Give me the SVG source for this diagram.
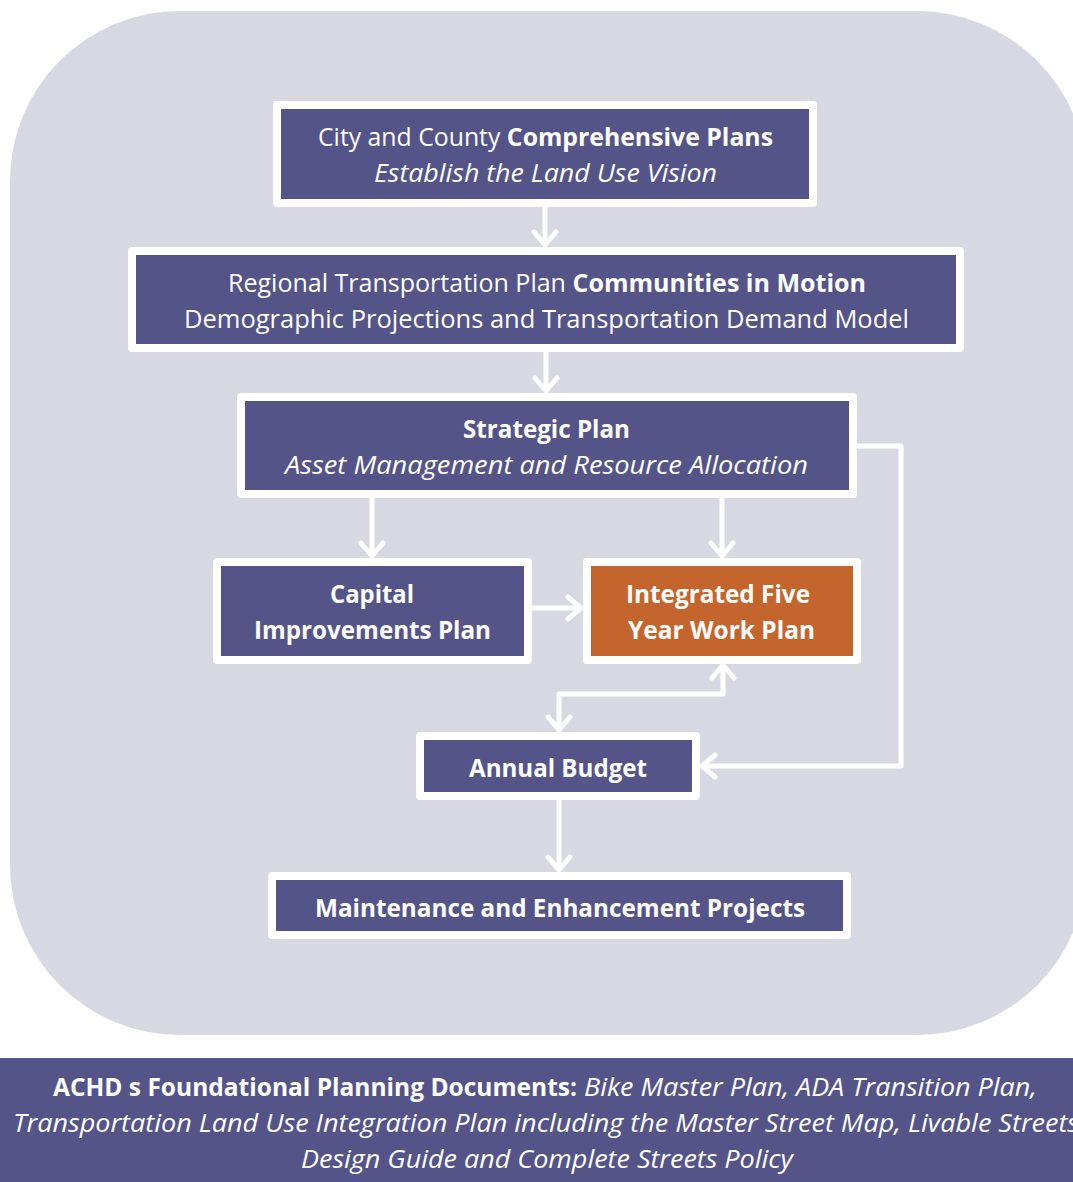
<svg xmlns="http://www.w3.org/2000/svg" width="1073" height="1182" viewBox="0 0 1073 1182">
<defs>
<style>
.bg{fill:#D8D8E2}
.box{fill:#545489;stroke:#fff;stroke-width:8;stroke-linejoin:round}
.org{fill:#C4652D;stroke:#fff;stroke-width:8;stroke-linejoin:round}
.t{font-family:"Open Sans","Noto Sans","DejaVu Sans",sans-serif;font-size:25px;fill:#fff;text-anchor:middle}
.s{text-anchor:start}
.b{font-weight:bold}
.i{font-style:italic}
.c{fill:none;stroke:#fff;stroke-width:5;stroke-linejoin:round}
</style>
<marker id="ah" markerUnits="userSpaceOnUse" markerWidth="30" markerHeight="30" refX="0" refY="0" orient="auto" overflow="visible">
<path d="M-13,-11 L0,0 L-13,11" fill="none" stroke="#fff" stroke-width="5" stroke-linecap="round" stroke-linejoin="round"/>
</marker>
</defs>
<rect class="bg" x="10" y="11" width="1077" height="1024" rx="170" ry="170"/>
<g id="connectors">
<line class="c" x1="545" y1="207" x2="545" y2="245" marker-end="url(#ah)"/>
<line class="c" x1="546" y1="352" x2="546" y2="391" marker-end="url(#ah)"/>
<line class="c" x1="372" y1="497" x2="372" y2="556" marker-end="url(#ah)"/>
<line class="c" x1="722" y1="497" x2="722" y2="556" marker-end="url(#ah)"/>
<line class="c" x1="531" y1="608" x2="581" y2="608" marker-end="url(#ah)"/>
<polyline class="c" points="857,446 901,446 901,766 702,766" marker-end="url(#ah)"/>
<line class="c" x1="723" y1="694" x2="723" y2="665" marker-end="url(#ah)"/>
<polyline class="c" points="723,690 723,694 559,694 559,730" marker-end="url(#ah)"/>
<line class="c" x1="559" y1="799" x2="559" y2="870" marker-end="url(#ah)"/>
</g>
<g id="comprehensive">
<rect class="box" x="277" y="105" width="536" height="98"/>
<text class="t" x="545.5" y="146" textLength="455" lengthAdjust="spacingAndGlyphs">City and County <tspan class="b">Comprehensive Plans</tspan></text>
<text class="t i" x="545.5" y="182" textLength="343" lengthAdjust="spacingAndGlyphs">Establish the Land Use Vision</text>
</g>
<g id="regional">
<rect class="box" x="132" y="251" width="828" height="97"/>
<text class="t" x="547" y="292" textLength="638" lengthAdjust="spacingAndGlyphs">Regional Transportation Plan <tspan class="b">Communities in Motion</tspan></text>
<text class="t" x="546.5" y="328" textLength="725" lengthAdjust="spacingAndGlyphs">Demographic Projections and Transportation Demand Model</text>
</g>
<g id="strategic">
<rect class="box" x="241" y="397" width="612" height="97"/>
<text class="t b" x="546.5" y="438" textLength="167" lengthAdjust="spacingAndGlyphs">Strategic Plan</text>
<text class="t i" x="546.5" y="474" textLength="523" lengthAdjust="spacingAndGlyphs">Asset Management and Resource Allocation</text>
</g>
<g id="capital">
<rect class="box" x="217" y="562" width="311" height="98"/>
<text class="t b" x="372" y="603" textLength="84" lengthAdjust="spacingAndGlyphs">Capital</text>
<text class="t b" x="372.5" y="639" textLength="237" lengthAdjust="spacingAndGlyphs">Improvements Plan</text>
</g>
<g id="integrated">
<rect class="org" x="587" y="562" width="270" height="98"/>
<text class="t b" x="718" y="603" textLength="184" lengthAdjust="spacingAndGlyphs">Integrated Five</text>
<text class="t b" x="721.5" y="639" textLength="187" lengthAdjust="spacingAndGlyphs">Year Work Plan</text>
</g>
<g id="budget">
<rect class="box" x="420" y="736" width="276" height="60"/>
<text class="t b" x="558" y="777" textLength="178" lengthAdjust="spacingAndGlyphs">Annual Budget</text>
</g>
<g id="maintenance">
<rect class="box" x="272" y="876" width="575" height="59"/>
<text class="t b" x="560" y="917" textLength="490" lengthAdjust="spacingAndGlyphs">Maintenance and Enhancement Projects</text>
</g>
<g id="foundational">
<rect x="0" y="1058" width="1073" height="124" fill="#545489"/>
<text class="t b s" x="53" y="1096" textLength="524" lengthAdjust="spacingAndGlyphs">ACHD s Foundational Planning Documents:</text>
<text class="t i s" x="584" y="1096" textLength="453" lengthAdjust="spacingAndGlyphs">Bike Master Plan, ADA Transition Plan,</text>
<text class="t i s" x="13" y="1132" textLength="1066" lengthAdjust="spacingAndGlyphs">Transportation Land Use Integration Plan including the Master Street Map, Livable Streets</text>
<text class="t i" x="547" y="1168" textLength="492" lengthAdjust="spacingAndGlyphs">Design Guide and Complete Streets Policy</text>
</g>
</svg>
